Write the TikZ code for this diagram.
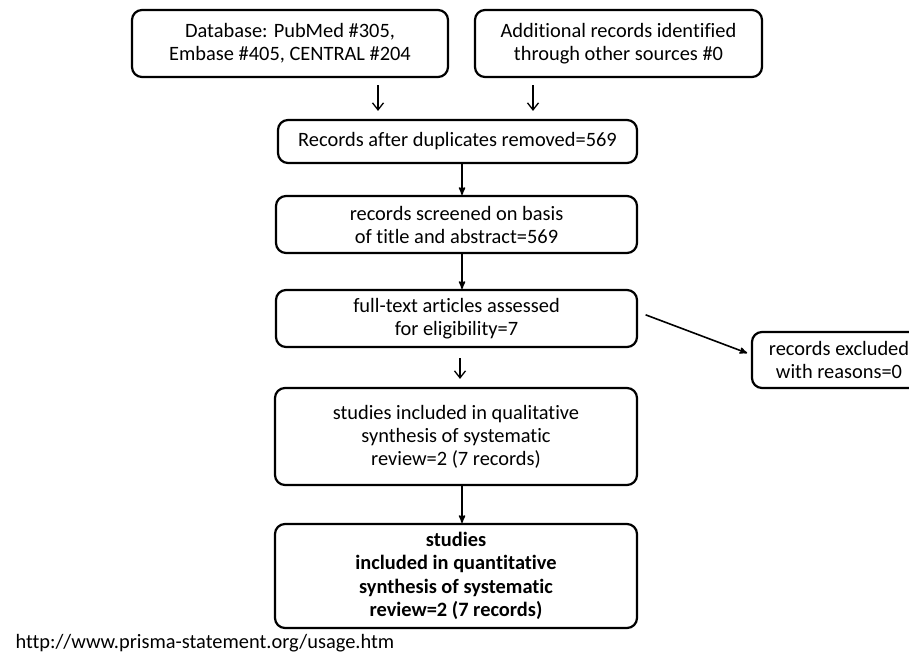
\documentclass[tikz,border=0pt]{standalone}
\usepackage{fontspec}
\setmainfont{Carlito}[Ligatures=NoCommon]
\usetikzlibrary{arrows,arrows.meta,positioning,shapes}

\begin{document}
\begin{tikzpicture}[x=1pt,y=-1pt,
  every node/.style={align=center,font=\fontsize{20.4}{23}\selectfont},
  process/.style={draw,line width=2.2pt,rounded corners=10pt,inner sep=0pt},
  result/.style={process,font=\fontsize{20.4}{23.5}\selectfont\bfseries},
  to/.style={->,>=stealth',line width=1.6pt},
  hint/.style={-{Straight Barb[length=7pt,width=11pt]},line width=1.3pt}]

    \useasboundingbox[fill=white] (0,0) rectangle (909,655);

    % identification
    \node[process,minimum width=316pt,minimum height=67pt](db) at (290,43.5)
        {Database: PubMed \#305,\\Embase \#405, CENTRAL \#204};
    \node[process,minimum width=287pt,minimum height=67pt](other) at (618.5,43.5)
        {Additional records identified\\through other sources \#0};

    % screening
    \node[process,minimum width=359pt,minimum height=43pt](dup) at (457.5,141.5)
        {Records after duplicates removed=569};
    \node[process,minimum width=361pt,minimum height=57pt](screen) at (456.5,224.5)
        {records screened on basis\\of title and abstract=569};
    \node[process,minimum width=361pt,minimum height=57pt](full) at (456.5,318.5)
        {full-text articles assessed\\for eligibility=7};
    \node[process,minimum width=174pt,minimum height=56pt](excl) at (839,360)
        {records excluded\\with reasons=0};

    % included
    \node[process,minimum width=362pt,minimum height=97pt](qual) at (456,436.5)
        {studies included in qualitative\\synthesis of systematic\\review=2 (7 records)};
    \node[result,minimum width=362pt,minimum height=104pt](quant) at (456,576)
        {studies\\included in quantitative\\synthesis of systematic\\review=2 (7 records)};

    \node[anchor=base west](url) at (12,648) {http://www.prisma-statement.org/usage.htm};

    \coordinate (dbx) at (378,0);
    \coordinate (otherx) at (533,0);
    \coordinate (spine) at (462,0);
    \coordinate (fullx) at (460,0);

    \draw[hint,shorten <=7pt,shorten >=8pt](db.south -| dbx) -- (dup.north -| dbx);
    \draw[hint,shorten <=7pt,shorten >=8pt](other.south -| otherx) -- (dup.north -| otherx);
    \draw[to](dup.south -| spine) -- (screen.north -| spine);
    \draw[to](screen.south -| spine) -- (full.north -| spine);
    \draw[to,shorten <=8pt,shorten >=4pt]([yshift=6.5pt]full.east) -- ([yshift=5.5pt]excl.west);
    \draw[hint,shorten <=10pt,shorten >=8pt](full.south -| fullx) -- (qual.north -| fullx);
    \draw[to](qual.south -| spine) -- (quant.north -| spine);
\end{tikzpicture}
\end{document}
